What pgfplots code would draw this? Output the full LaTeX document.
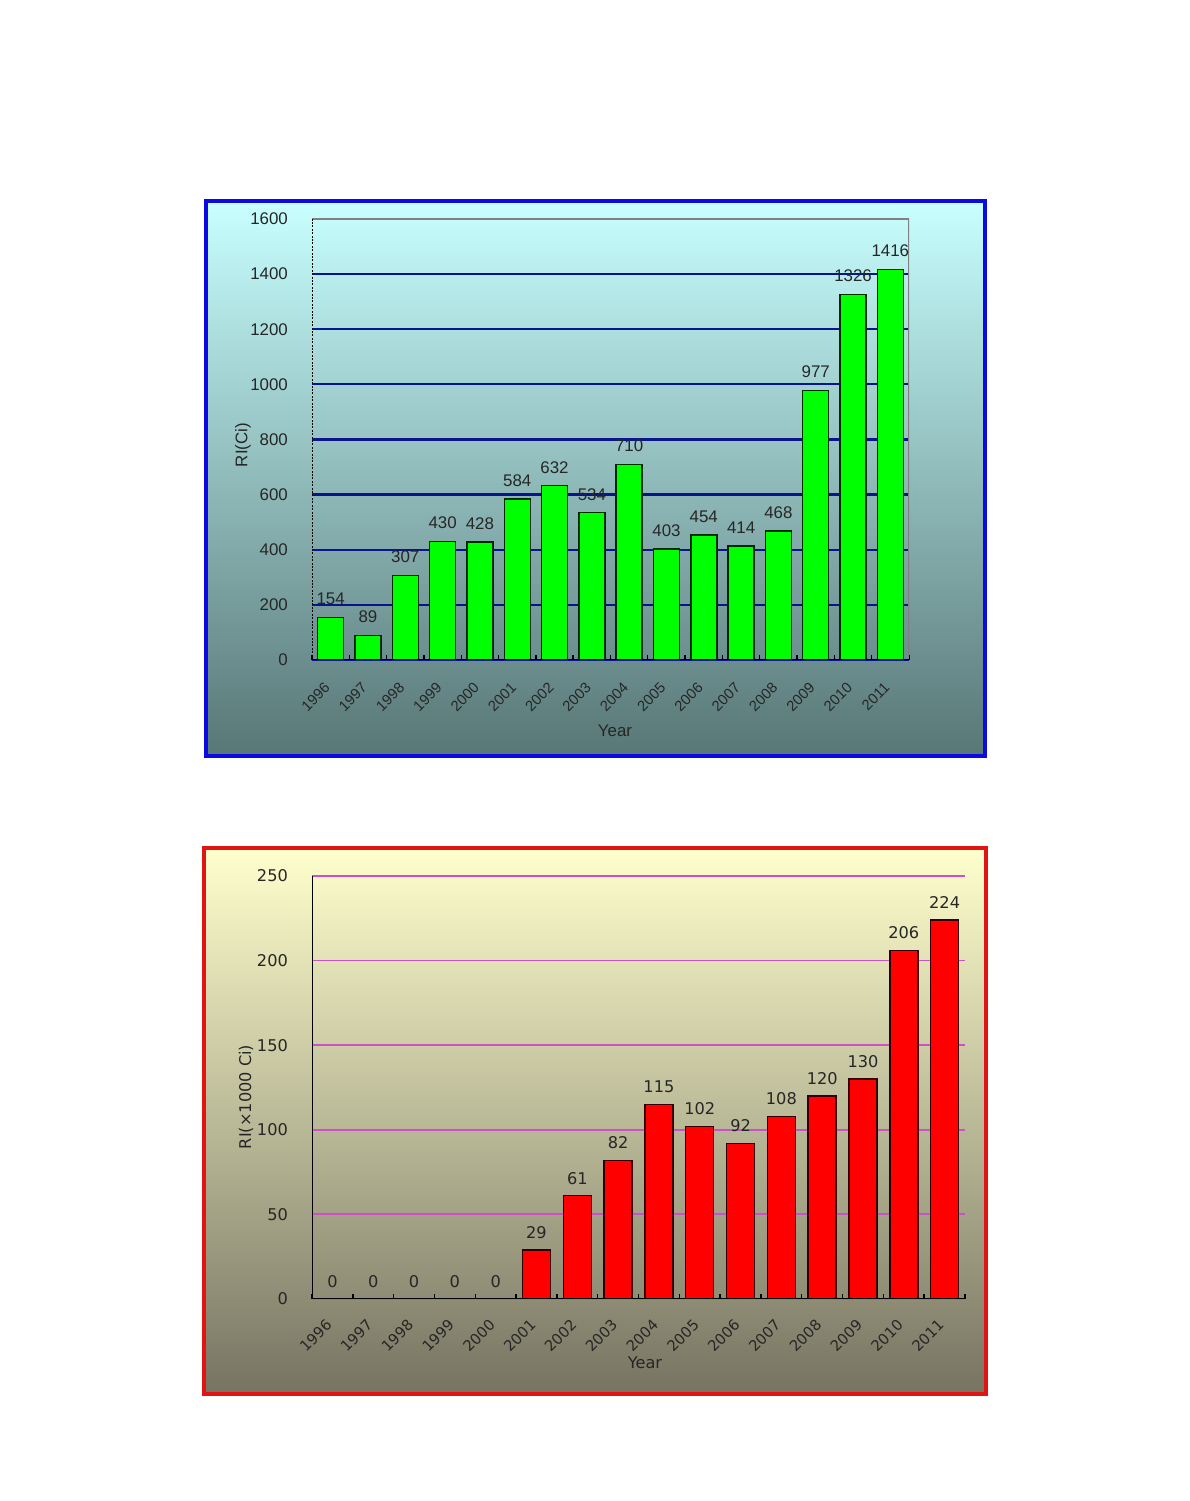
\documentclass[border=0pt]{standalone}
\usepackage{pgfplots}
\pgfplotsset{compat=1.18}
\usepackage{fontspec}
\setmainfont{Liberation Sans}
\newfontfamily\dejavu{DejaVu Sans}
\definecolor{topA}{RGB}{200,255,255}
\definecolor{topB}{RGB}{88,118,118}
\definecolor{botA}{RGB}{255,255,205}
\definecolor{botB}{RGB}{118,116,98}
\definecolor{frameblue}{RGB}{10,10,225}
\definecolor{framered}{RGB}{225,20,20}
\definecolor{gridnavy}{RGB}{10,20,140}
\definecolor{gridpink}{RGB}{205,80,200}
\definecolor{bargreen}{RGB}{0,255,0}
\definecolor{barred}{RGB}{255,0,0}
\pgfplotsset{/pgf/number format/.cd, 1000 sep={}, assume math mode=true}
\begin{document}
\begin{tikzpicture}[x=0.25mm,y=0.25mm]
\fill[white] (0,0) rectangle (1190,1501);
\useasboundingbox (0,0) rectangle (1190,1501);
% top panel
\shade[top color=topA, bottom color=topB] (206,745) rectangle (985,1300);
\draw[frameblue, line width=1mm] (206,745) rectangle (985,1300);
% bottom panel
\shade[top color=botA, bottom color=botB] (204,107) rectangle (986,653);
\draw[framered, line width=1mm] (204,107) rectangle (986,653);

\begin{axis}[
  at={(78mm,210.25mm)}, anchor=south west, scale only axis,
  width=149.25mm, height=110.25mm,
  ybar, bar width=6.5mm,
  xmin=1995.5, xmax=2011.5, ymin=0, ymax=1600,
  xtick={1996,...,2011}, ytick={0,200,...,1600},
  minor xtick={1995.5,1996.5,...,2011.5},
  tickpos=left,
  major tick length=0pt, minor tick length=1.2mm, tick align=inside,
  minor tick style={black, line width=0.35mm},
  axis line style={draw=none},
  ymajorgrids, grid style={gridnavy, line width=0.55mm},
  ticklabel style={font=\fontsize{12}{14}\selectfont, text=black!85},
  xticklabel style={rotate=45, anchor=east, font=\fontsize{10.5}{12}\selectfont},
  xticklabel shift=5.5mm,
  yticklabel shift=4.8mm,
  nodes near coords,
  every node near coord/.append style={font=\fontsize{12}{14}\selectfont, text=black!85, yshift=1.8mm},
]
\addplot[fill=bargreen, draw={rgb,255:red,0;green,45;blue,0}, line width=0.35mm] coordinates {
(1996,154) (1997,89) (1998,307) (1999,430) (2000,428) (2001,584) (2002,632) (2003,534)
(2004,710) (2005,403) (2006,454) (2007,414) (2008,468) (2009,977) (2010,1326) (2011,1416)};
\draw[gray, line width=0.3mm] (rel axis cs:0,1) -- (rel axis cs:1,1) -- (rel axis cs:1,0);
\draw[black, line width=0.4mm] (rel axis cs:0,0) -- (rel axis cs:1,0);
\draw[black, densely dotted, line width=0.5mm] (rel axis cs:0,0) -- (rel axis cs:0,1);
\end{axis}
\node[rotate=90, font=\fontsize{12}{14}\selectfont, text=black!85] at (243,1056) {RI(Ci)};
\node[font=\fontsize{12}{14}\selectfont, text=black!85] at (615,770) {Year};

\begin{axis}[
  at={(78mm,50.5mm)}, anchor=south west, scale only axis,
  width=163.25mm, height=105.75mm,
  ybar, bar width=7mm,
  xmin=1995.5, xmax=2011.5, ymin=0, ymax=250,
  xtick={1996,...,2011}, ytick={0,50,...,250},
  minor xtick={1995.5,1996.5,...,2011.5},
  tickpos=left,
  major tick length=0pt, minor tick length=1.2mm, tick align=inside,
  minor tick style={black, line width=0.35mm},
  axis line style={draw=none},
  ymajorgrids, grid style={gridpink, line width=0.45mm},
  ticklabel style={font=\dejavu\fontsize{11.5}{14}\selectfont, text=black!85},
  xticklabel style={rotate=45, anchor=east, font=\dejavu\fontsize{10.5}{12}\selectfont},
  xticklabel shift=5mm,
  yticklabel shift=4.8mm,
  nodes near coords,
  every node near coord/.append style={font=\dejavu\fontsize{11.5}{14}\selectfont, text=black!85, yshift=1.5mm},
]
\addplot[fill=barred, draw={rgb,255:red,50;green,0;blue,0}, line width=0.35mm] coordinates {
(1996,0) (1997,0) (1998,0) (1999,0) (2000,0) (2001,29) (2002,61) (2003,82)
(2004,115) (2005,102) (2006,92) (2007,108) (2008,120) (2009,130) (2010,206) (2011,224)};
\draw[black, line width=0.4mm] (rel axis cs:0,1) -- (rel axis cs:0,0) -- (rel axis cs:1,0);
\end{axis}
\node[rotate=90, font=\dejavu\fontsize{11.5}{14}\selectfont, text=black!85] at (246,404) {RI(×1000 Ci)};
\node[font=\dejavu\fontsize{11.5}{14}\selectfont, text=black!85] at (645,138) {Year};
\end{tikzpicture}
\end{document}
